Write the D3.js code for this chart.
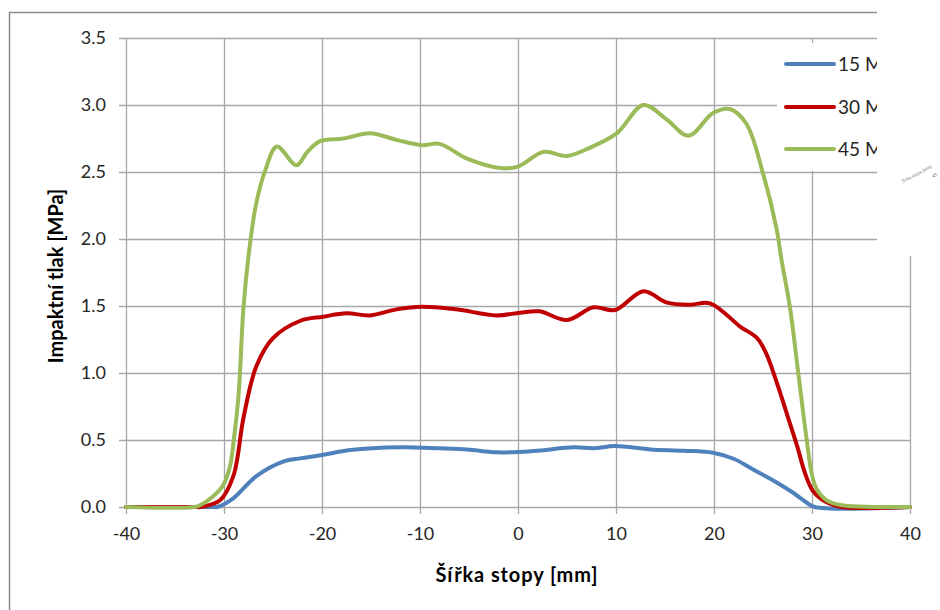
<!DOCTYPE html>
<html>
<head>
<meta charset="utf-8">
<script src="https://cdn.jsdelivr.net/npm/d3@7"></script>
<style>
  body { margin: 0; background: #fff; }
  svg { display: block; font-family: Lato, "Open Sans", sans-serif; }
</style>
</head>
<body>
<script>
// Šířka stopy [mm] -> impaktní tlak [MPa]
const x15 = [-40, -31, -30.7, -29.05, -26.7, -23.9, -22.2, -20, -17.1, -12, -8, -5.2, -2.2, 1.6, 5.7, 7.7, 9.9, 13.5, 16.9, 19.9, 22, 24, 26, 28, 29.5, 30.3, 40];
const p15 = [0, 0, 0, 0.065, 0.23, 0.34, 0.363, 0.388, 0.425, 0.445, 0.438, 0.43, 0.408, 0.418, 0.445, 0.438, 0.455, 0.43, 0.42, 0.405, 0.36, 0.28, 0.2, 0.11, 0.03, 0, 0];

const x30 = [-40, -33, -32.4, -30.4, -29.05, -28, -26.7, -25, -22.2, -19.9, -17.5, -15.1, -12.4, -9.8, -6.3, -2.2, 0.2, 2.2, 5, 7.7, 9.9, 12.8, 15.2, 17.6, 19.6, 22.7, 24.4, 25.3, 26.4, 27.5, 28.5, 29.3, 30.1, 31.5, 33, 40];
const p30 = [0, 0, 0, 0.05, 0.23, 0.67, 1.05, 1.26, 1.39, 1.42, 1.445, 1.43, 1.475, 1.495, 1.475, 1.43, 1.45, 1.46, 1.395, 1.49, 1.47, 1.61, 1.525, 1.51, 1.52, 1.345, 1.26, 1.15, 0.93, 0.68, 0.45, 0.25, 0.12, 0.035, 0, 0];

const x45 = [-40, -33, -32.4, -31.1, -30.1, -29.4, -29, -28.5, -28, -27.3, -26.7, -25.8, -24.6, -22.6, -21.5, -20.2, -17.8, -15.1, -12.4, -9.8, -8, -5.2, -1.8, 0, 2.6, 5, 7.3, 10.1, 12.8, 15.2, 17.4, 19.9, 21.6, 23.3, 25, 26.4, 26.9, 27.75, 28.6, 29.46, 29.97, 30.5, 31.5, 32.9, 40];
const p45 = [0, 0, 0.015, 0.08, 0.16, 0.3, 0.5, 0.85, 1.5, 1.99, 2.27, 2.51, 2.69, 2.55, 2.65, 2.73, 2.75, 2.79, 2.74, 2.7, 2.71, 2.6, 2.53, 2.54, 2.65, 2.62, 2.68, 2.79, 3.0, 2.89, 2.77, 2.94, 2.97, 2.86, 2.49, 2.07, 1.84, 1.49, 1.0, 0.5, 0.25, 0.13, 0.05, 0.015, 0];

const seriesNames = ["15 MPa", "30 MPa", "45 MPa"];
const seriesColors = ["#4f81bd", "#c00000", "#9bbb59"];
const xTicks = [-40, -30, -20, -10, 0, 10, 20, 30, 40];
const yTicks = [0, 0.5, 1, 1.5, 2, 2.5, 3, 3.5];

const width = 940, height = 610;
const x = d3.scaleLinear().domain([-40, 40]).range([126, 910]);
const y = d3.scaleLinear().domain([0, 3.5]).range([507, 38]);

const svg = d3.select("body").append("svg")
  .attr("width", width)
  .attr("height", height);

// outer chart frame (only top and left visible)
svg.append("path")
  .attr("d", "M9.5,610 V12.5 H877")
  .attr("fill", "none")
  .attr("stroke", "#8c8c8c")
  .attr("stroke-width", 1.5);

const grid = "#a6a6a6";

// horizontal grid + left ticks
svg.append("g")
  .attr("transform", `translate(${x(-40)},0)`)
  .call(d3.axisLeft(y).tickValues(yTicks).tickSize(-(x(40) - x(-40))).tickSizeOuter(0).tickFormat(d3.format(".1f")))
  .call(g => g.select(".domain").remove())
  .call(g => g.selectAll(".tick line").attr("stroke", grid).attr("stroke-width", 1.3).attr("x1", -7))
  .call(g => g.selectAll(".tick text").attr("x", -20).attr("fill", "#262626").attr("font-size", 18).attr("font-family", "Lato, sans-serif"));

// vertical grid + bottom ticks (plain hyphen for negatives, like the original)
svg.append("g")
  .attr("transform", `translate(0,${y(0)})`)
  .call(d3.axisBottom(x).tickValues(xTicks).tickSize(-(y(0) - y(3.5))).tickSizeOuter(0).tickFormat(d => String(d)))
  .call(g => g.select(".domain").remove())
  .call(g => g.selectAll(".tick line").attr("stroke", grid).attr("stroke-width", 1.3).attr("y1", 7))
  .call(g => g.selectAll(".tick text").attr("y", 20).attr("fill", "#262626").attr("font-size", 18).attr("font-family", "Lato, sans-serif"));

// smoothed series
const line = d3.line()
  .x(d => x(d[0]))
  .y(d => y(d[1]))
  .curve(d3.curveCatmullRom.alpha(0.5));

const series = [
  d3.zip(x15, p15),
  d3.zip(x30, p30),
  d3.zip(x45, p45)
];

svg.append("g")
  .selectAll("path")
  .data(series)
  .join("path")
  .attr("d", line)
  .attr("fill", "none")
  .attr("stroke", (d, i) => seriesColors[i])
  .attr("stroke-width", 4)
  .attr("stroke-linejoin", "round")
  .attr("stroke-linecap", "round");

// axis titles
svg.append("text")
  .attr("x", 517)
  .attr("y", 582)
  .attr("text-anchor", "middle")
  .attr("font-size", 20)
  .attr("letter-spacing", 0.9)
  .attr("font-weight", "bold")
  .attr("fill", "#000")
  .text("Šířka stopy [mm]");

svg.append("text")
  .attr("transform", "translate(63,276) rotate(-90)")
  .attr("text-anchor", "middle")
  .attr("font-size", 20)
  .attr("font-weight", "bold")
  .attr("fill", "#000")
  .text("Impaktní tlak [MPa]");

// legend (clipped at the right, as in the picture)
svg.append("clipPath").attr("id", "legclip")
  .append("rect").attr("x", 0).attr("y", 0).attr("width", 877).attr("height", height);

const leg = svg.append("g").attr("clip-path", "url(#legclip)");
leg.append("rect")
  .attr("x", 777).attr("y", 43).attr("width", 120).attr("height", 128)
  .attr("fill", "#fff");

const legY = [64, 107, 149];
seriesNames.forEach((name, i) => {
  leg.append("line")
    .attr("x1", 786).attr("x2", 834)
    .attr("y1", legY[i]).attr("y2", legY[i])
    .attr("stroke", seriesColors[i])
    .attr("stroke-width", 4)
    .attr("stroke-linecap", "round");
  leg.append("text")
    .attr("x", 838).attr("y", legY[i])
    .attr("dy", "0.35em")
    .attr("font-size", 19)
    .attr("fill", "#262626")
    .text(name);
});

// blank patch at the top right, with a stray tiny label
svg.append("rect")
  .attr("x", 877).attr("y", 0).attr("width", 63).attr("height", 256)
  .attr("fill", "#fff");

svg.append("text")
  .attr("transform", "translate(903,183) rotate(-28)")
  .attr("font-size", 4.5)
  .attr("fill", "#777")
  .text("Šířka stopy [mm]");
svg.append("text")
  .attr("transform", "translate(933,178) rotate(-28)")
  .attr("font-size", 4.5)
  .attr("fill", "#555")
  .text("45");
</script>
</body>
</html>
